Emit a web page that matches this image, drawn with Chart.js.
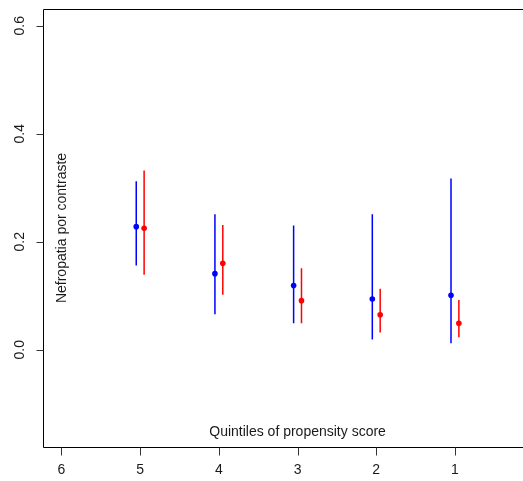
<!DOCTYPE html>
<html>
<head>
<meta charset="utf-8">
<script src="https://cdn.jsdelivr.net/npm/chart.js@4"></script>
<style>
  html, body { margin: 0; padding: 0; background: #fff; overflow: hidden; }
  canvas { display: block; }
</style>
</head>
<body>
<canvas id="myChart" width="523" height="481"></canvas>
<script>
var canvas = document.getElementById("myChart");

// quintiles of propensity score
const quintiles = [5, 4, 3, 2, 1];
// blue series: point estimate and interval
const blueMean = [0.228, 0.141, 0.119, 0.094, 0.101];
const blueLow = [0.156, 0.066, 0.049, 0.019, 0.012];
const blueHigh = [0.312, 0.251, 0.230, 0.251, 0.317];
// red series
const redMean = [0.225, 0.160, 0.091, 0.065, 0.049];
const redLow = [0.139, 0.102, 0.049, 0.032, 0.023];
const redHigh = [0.332, 0.231, 0.151, 0.113, 0.092];
// tick labels
const xTicks = [6, 5, 4, 3, 2, 1];
const yTicks = [0.0, 0.2, 0.4, 0.6];

const FONT = "Liberation Sans, Arial, sans-serif";
const BLUE = "#0000ff";
const RED = "#ff0000";
const SHIFT = 0.05; // small horizontal dodge between the two series

function points(mean, low, high, dx) {
  return quintiles.map((q, i) => ({ x: q + dx, y: mean[i], lo: low[i], hi: high[i] }));
}

// vertical interval lines, drawn under the points through the chart scales
const errorBars = {
  id: "errorBars",
  beforeDatasetsDraw(chart) {
    const ctx = chart.ctx;
    const x = chart.scales.x;
    const y = chart.scales.y;
    ctx.save();
    ctx.lineWidth = 1.5;
    chart.data.datasets.forEach((ds) => {
      ctx.strokeStyle = ds.borderColor;
      ctx.beginPath();
      ds.data.forEach((p) => {
        const px = x.getPixelForValue(p.x);
        ctx.moveTo(px, y.getPixelForValue(p.lo));
        ctx.lineTo(px, y.getPixelForValue(p.hi));
      });
      ctx.stroke();
    });
    ctx.restore();
  },
};

// R-style axes: open box, tick marks, rotated y labels, titles inside the plot
const decor = {
  id: "decor",
  afterDraw(chart) {
    const ctx = chart.ctx;
    const a = chart.chartArea;
    const x = chart.scales.x;
    const y = chart.scales.y;
    const left = Math.round(a.left) + 0.5;
    const top = Math.round(a.top) + 0.5;
    const bottom = Math.round(a.bottom) + 0.5;
    ctx.save();

    ctx.strokeStyle = "#000";
    ctx.lineWidth = 1;
    ctx.beginPath();
    ctx.moveTo(chart.width + 2, top);
    ctx.lineTo(left, top);
    ctx.lineTo(left, bottom);
    ctx.lineTo(chart.width + 2, bottom);
    ctx.stroke();

    ctx.strokeStyle = "#333";
    ctx.beginPath();
    xTicks.forEach((v) => {
      const px = Math.round(x.getPixelForValue(v)) + 0.5;
      ctx.moveTo(px, bottom);
      ctx.lineTo(px, bottom + 8);
    });
    yTicks.forEach((v) => {
      const py = Math.round(y.getPixelForValue(v)) + 0.5;
      ctx.moveTo(left - 7, py);
      ctx.lineTo(left, py);
    });
    ctx.stroke();

    ctx.fillStyle = "#1a1a1a";
    ctx.font = "14px " + FONT;
    ctx.textAlign = "center";
    ctx.textBaseline = "middle";
    xTicks.forEach((v) => {
      ctx.fillText(String(v), x.getPixelForValue(v), bottom + 23);
    });
    yTicks.forEach((v) => {
      ctx.save();
      ctx.translate(20, y.getPixelForValue(v));
      ctx.rotate(-Math.PI / 2);
      ctx.fillText(v.toFixed(1), 0, 0);
      ctx.restore();
    });

    ctx.fillText("Quintiles of propensity score", x.getPixelForValue(3), a.bottom - 15);

    ctx.save();
    ctx.translate(62, (a.top + a.bottom) / 2);
    ctx.rotate(-Math.PI / 2);
    ctx.fillText("Nefropatia por contraste", 0, 0);
    ctx.restore();
    ctx.restore();
  },
};

new Chart(canvas, {
  type: "scatter",
  data: {
    datasets: [
      {
        data: points(blueMean, blueLow, blueHigh, SHIFT),
        backgroundColor: BLUE,
        borderColor: BLUE,
        pointRadius: 2.8,
        borderWidth: 0,
      },
      {
        data: points(redMean, redLow, redHigh, -SHIFT),
        backgroundColor: RED,
        borderColor: RED,
        pointRadius: 2.8,
        borderWidth: 0,
      },
    ],
  },
  options: {
    responsive: false,
    animation: false,
    layout: { autoPadding: false, padding: { top: 9, left: 0, right: 0, bottom: 0 } },
    plugins: {
      legend: { display: false },
      tooltip: { enabled: false },
    },
    scales: {
      x: {
        type: "linear",
        reverse: true,
        min: 0.135,
        max: 6.235,
        afterBuildTicks: (axis) => {
          axis.ticks = xTicks.map((v) => ({ value: v }));
        },
        afterFit: (axis) => {
          axis.height = 34;
        },
        grid: { display: false },
        border: { display: false },
        ticks: { display: false },
      },
      y: {
        min: -0.18,
        max: 0.631,
        afterBuildTicks: (axis) => {
          axis.ticks = yTicks.map((v) => ({ value: v }));
        },
        afterFit: (axis) => {
          axis.width = 43;
        },
        grid: { display: false },
        border: { display: false },
        ticks: { display: false },
      },
    },
  },
  plugins: [errorBars, decor],
});
</script>
</body>
</html>
